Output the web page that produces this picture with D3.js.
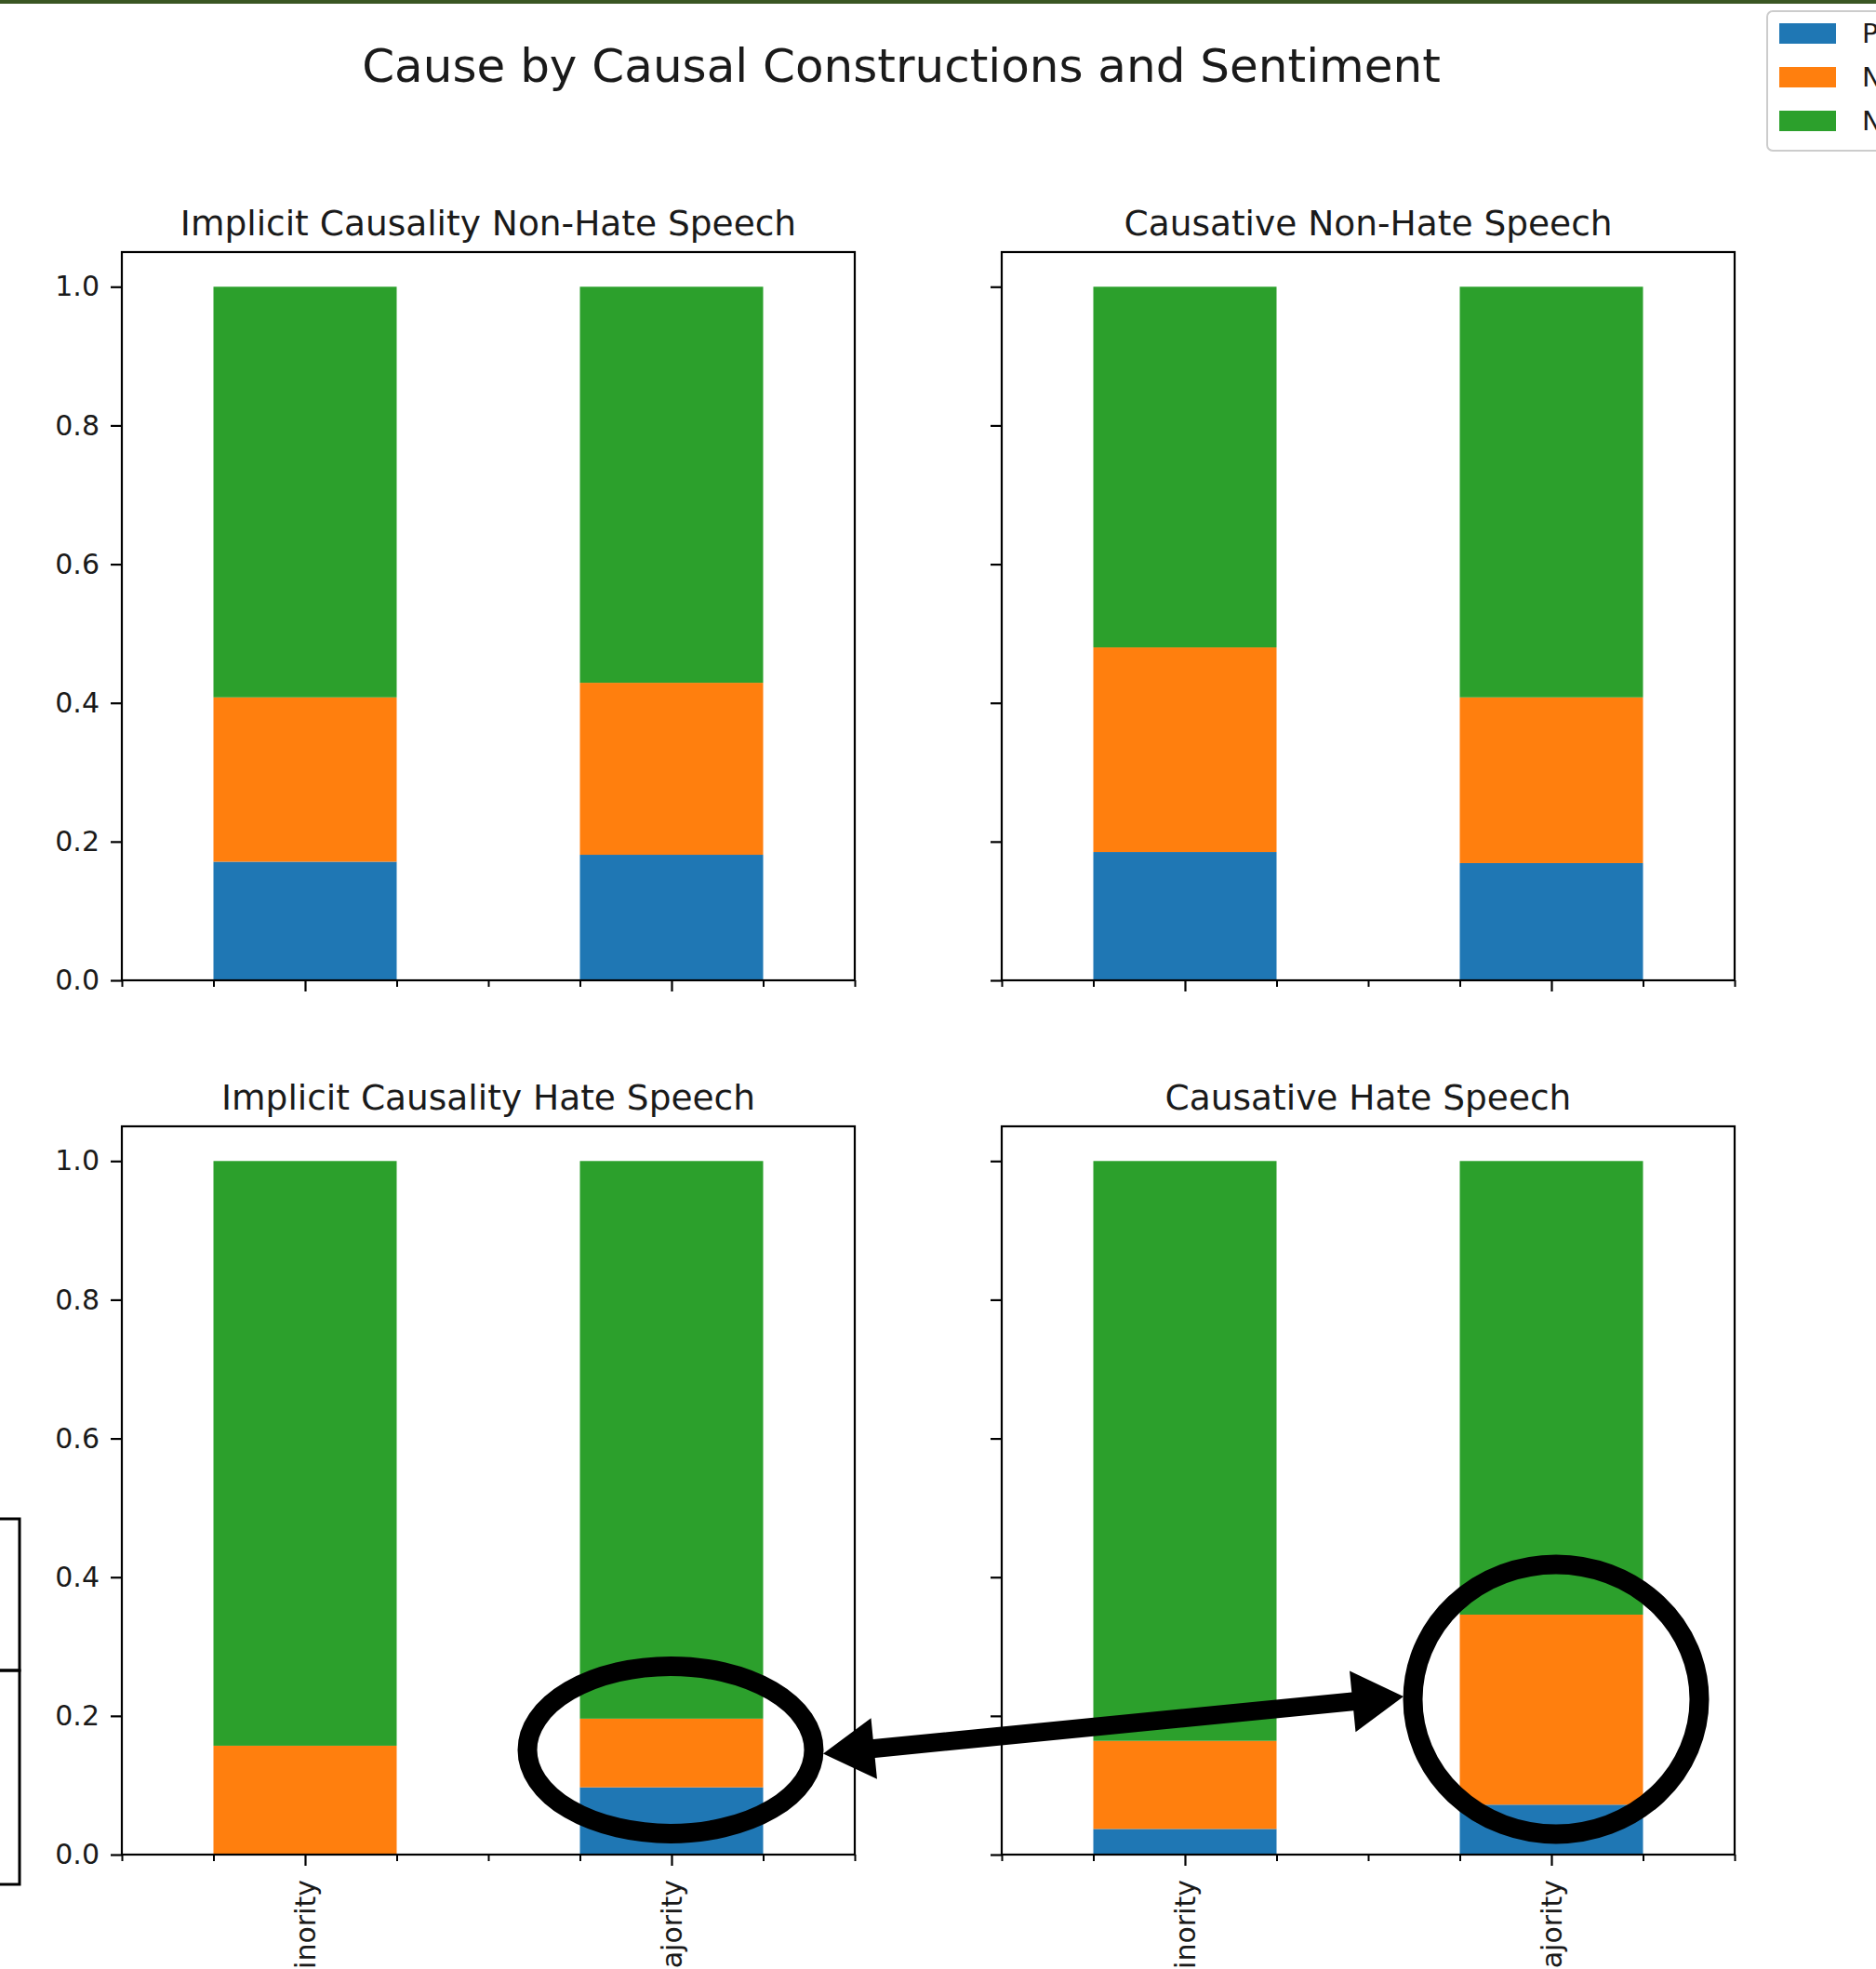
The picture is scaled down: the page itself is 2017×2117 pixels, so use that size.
<!DOCTYPE html>
<html>
<head>
<meta charset="utf-8">
<script src="https://cdn.jsdelivr.net/npm/d3@7"></script>
<style>
  html, body { margin: 0; padding: 0; background: #ffffff; }
  svg { display: block; }
  text { font-family: "DejaVu Sans", sans-serif; fill: #1a1a1a; }
</style>
</head>
<body>
<svg id="chart" width="2017" height="2117"></svg>
<script>
// ---------------- data ----------------
const categories = ["Minority", "Majority"];
const sentiments = ["Positive", "Negative", "Neutral"];
const panelTitles = [
  "Implicit Causality Non-Hate Speech",
  "Causative Non-Hate Speech",
  "Implicit Causality Hate Speech",
  "Causative Hate Speech"
];
// per panel: [Minority, Majority]
const positiveShare = [[0.171, 0.181], [0.185, 0.169], [0.000, 0.097], [0.037, 0.072]];
const negativeShare = [[0.237, 0.248], [0.295, 0.239], [0.157, 0.099], [0.127, 0.274]];
const neutralShare  = [[0.592, 0.571], [0.520, 0.592], [0.843, 0.804], [0.836, 0.654]];
const yTicks = [0.0, 0.2, 0.4, 0.6, 0.8, 1.0];
const mainTitle = "Cause by Causal Constructions and Sentiment";
// annotation: circled bars (panel index, category, centre value)
const highlights = [
  { panel: 2, category: "Majority", value: 0.151 },
  { panel: 3, category: "Majority", value: 0.224 }
];

// ---------------- layout ----------------
const colors = ["#1f77b4", "#ff7f0e", "#2ca02c"];
const svg = d3.select("#chart");
const W = 2017, H = 2117;
svg.append("rect").attr("width", W).attr("height", H).attr("fill", "#ffffff");
// dark green border at top
svg.append("rect").attr("x", 0).attr("y", 0).attr("width", W).attr("height", 4).attr("fill", "#3a5623");

const panelLeft = [131, 1077];
const panelTop = [271, 1211];
const pw = 788, ph = 783;

svg.append("text")
  .attr("x", 969).attr("y", 88)
  .attr("text-anchor", "middle")
  .attr("font-size", 50)
  .text(mainTitle);

const seriesArrays = [positiveShare, negativeShare, neutralShare];
const panelGeom = [];

panelTitles.forEach((title, p) => {
  const col = p % 2, row = Math.floor(p / 2);
  const x0 = panelLeft[col], y0 = panelTop[row];
  const g = svg.append("g").attr("transform", `translate(${x0},${y0})`);

  const x = d3.scaleLinear().domain([-0.5, 1.5]).range([0, pw]);
  const y = d3.scaleLinear().domain([0, 1.05]).range([ph, 0]);
  panelGeom.push({ x0, y0, x, y });

  // stacked data
  const rows = categories.map((c, i) => {
    const o = { category: c, idx: i };
    sentiments.forEach((s, k) => o[s] = seriesArrays[k][p][i]);
    return o;
  });
  const stack = d3.stack().keys(sentiments)(rows);

  stack.forEach((layer, k) => {
    g.selectAll(null)
      .data(layer)
      .enter().append("rect")
      .attr("x", d => x(d.data.idx - 0.25))
      .attr("width", x(0.25) - x(-0.25))
      .attr("y", d => y(d[1]))
      .attr("height", d => y(d[0]) - y(d[1]))
      .attr("fill", colors[k]);
  });

  // y axis
  const yAxis = d3.axisLeft(y).tickValues(yTicks).tickSize(12).tickPadding(12)
    .tickFormat(col === 0 ? d3.format(".1f") : () => "");
  const ya = g.append("g").call(yAxis);
  ya.select(".domain").remove();
  ya.selectAll("line").attr("stroke", "#000").attr("stroke-width", 2.2);
  ya.selectAll("text").attr("font-size", 30).attr("font-family", "DejaVu Sans").attr("fill", "#1a1a1a");

  // x axis minor ticks
  const minor = d3.range(-0.5, 1.5001, 0.25).filter(v => Math.abs(v) > 1e-6 && Math.abs(v - 1) > 1e-6);
  const xm = g.append("g").attr("transform", `translate(0,${ph})`)
    .call(d3.axisBottom(x).tickValues(minor).tickSize(7).tickFormat(() => ""));
  xm.select(".domain").remove();
  xm.selectAll("line").attr("stroke", "#000").attr("stroke-width", 2);

  // x axis major ticks
  const xAxis = d3.axisBottom(x).tickValues([0, 1]).tickSize(12).tickPadding(14)
    .tickFormat(v => row === 1 ? categories[v] : "");
  const xa = g.append("g").attr("transform", `translate(0,${ph})`).call(xAxis);
  xa.select(".domain").remove();
  xa.selectAll("line").attr("stroke", "#000").attr("stroke-width", 2.2);
  xa.selectAll("text")
    .attr("font-size", 30).attr("font-family", "DejaVu Sans").attr("fill", "#1a1a1a")
    .attr("text-anchor", "end")
    .attr("transform", "rotate(-90)")
    .attr("x", -27).attr("y", 0).attr("dy", "0.35em");

  // frame
  g.append("rect").attr("x", 0).attr("y", 0).attr("width", pw).attr("height", ph)
    .attr("fill", "none").attr("stroke", "#000").attr("stroke-width", 2.2);

  // title
  g.append("text")
    .attr("x", pw / 2).attr("y", -18)
    .attr("text-anchor", "middle")
    .attr("font-size", 37.5)
    .text(title);
});

// ---------------- legend ----------------
const lg = svg.append("g").attr("transform", "translate(1900,12)");
lg.append("rect").attr("x", 0).attr("y", 0).attr("width", 160).attr("height", 150)
  .attr("rx", 6).attr("fill", "#ffffff").attr("fill-opacity", 0.8)
  .attr("stroke", "#cccccc").attr("stroke-width", 2);
sentiments.forEach((s, k) => {
  const yy = 13 + k * 47;
  lg.append("rect").attr("x", 13).attr("y", yy).attr("width", 61).attr("height", 22).attr("fill", colors[k]);
  lg.append("text").attr("x", 102).attr("y", yy + 11).attr("dy", "0.35em")
    .attr("font-size", 29).text(s);
});

// ---------------- left-edge boxes (cropped element) ----------------
const boxG = svg.append("g");
boxG.append("rect").attr("x", -20).attr("y", 1633).attr("width", 41).attr("height", 163)
  .attr("fill", "none").attr("stroke", "#000").attr("stroke-width", 3);
boxG.append("rect").attr("x", -20).attr("y", 1796).attr("width", 41).attr("height", 230)
  .attr("fill", "none").attr("stroke", "#000").attr("stroke-width", 3);

// ---------------- annotations ----------------
const ann = svg.append("g");
const ellipseR = [{ rx: 154, ry: 90 }, { rx: 154, ry: 145 }];
const centres = highlights.map((h, i) => {
  const pg = panelGeom[h.panel];
  const cx = pg.x0 + pg.x(categories.indexOf(h.category)) + (i === 1 ? 5 : -1);
  const cy = pg.y0 + pg.y(h.value);
  ann.append("ellipse").attr("cx", cx).attr("cy", cy)
    .attr("rx", ellipseR[i].rx).attr("ry", ellipseR[i].ry)
    .attr("fill", "none").attr("stroke", "#000").attr("stroke-width", 21);
  return { cx, cy, rx: ellipseR[i].rx, ry: ellipseR[i].ry };
});
// double-headed arrow between ellipses
const a = { x: centres[0].cx + centres[0].rx + 10, y: centres[0].cy + 4 };
const b = { x: centres[1].cx - centres[1].rx - 10, y: centres[1].cy - 3 };
const ang = Math.atan2(b.y - a.y, b.x - a.x);
const headL = 55, headW = 33, shaftW = 10;
function pt(base, along, perp) {
  return [base.x + along * Math.cos(ang) - perp * Math.sin(ang),
          base.y + along * Math.sin(ang) + perp * Math.cos(ang)];
}
const len = Math.hypot(b.x - a.x, b.y - a.y);
const poly = [
  pt(a, 0, 0),
  pt(a, headL, -headW),
  pt(a, headL, -shaftW),
  pt(a, len - headL, -shaftW),
  pt(a, len - headL, -headW),
  pt(a, len, 0),
  pt(a, len - headL, headW),
  pt(a, len - headL, shaftW),
  pt(a, headL, shaftW),
  pt(a, headL, headW)
];
ann.append("polygon").attr("points", poly.map(p => p.join(",")).join(" ")).attr("fill", "#000");
</script>
</body>
</html>
